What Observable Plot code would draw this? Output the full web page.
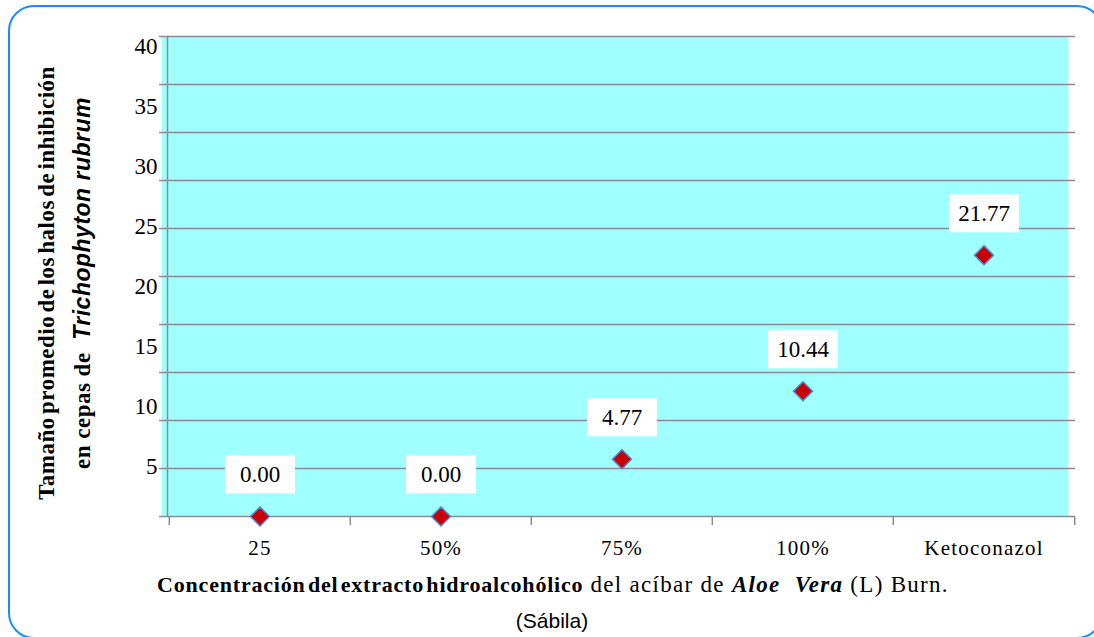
<!DOCTYPE html>
<html>
<head>
<meta charset="utf-8">
<script src="https://cdn.jsdelivr.net/npm/d3@7"></script>
<script src="https://cdn.jsdelivr.net/npm/@observablehq/plot@0.6"></script>
<style>
  body { margin: 0; background: #fff; overflow: hidden; }
  #wrap { position: relative; width: 1094px; height: 637px; overflow: hidden; background: #fff; }
  #chart { position: absolute; left: 0; top: 0; }
  #border { position: absolute; left: 7.75px; top: 4.75px; width: 1095.5px; height: 634.5px; box-sizing: border-box;
            border: 2.5px solid #1a8cff; border-radius: 26px; pointer-events: none; }
  .serif { font-family: "Liberation Serif", "Times New Roman", serif; }
  .sans { font-family: "Liberation Sans", Arial, sans-serif; }
  .ytitle { position: absolute; white-space: nowrap; transform: translate(-50%, -50%) rotate(-90deg); color: #000; }
  .xtitle { position: absolute; white-space: nowrap; transform: translate(-50%, -50%); color: #000; }
</style>
</head>
<body>
<div id="wrap">
  <div id="chart"></div>
  <div class="ytitle serif" style="left:47px; top:283px; font-size:23px; font-weight:bold; word-spacing:-3px; letter-spacing:0.5px;">Tamaño promedio de los halos de inhibición</div>
  <div class="ytitle" style="left:82px; top:283px; font-size:23px; font-weight:bold; letter-spacing:0.5px;"><span class="serif">en cepas de&nbsp; </span><span class="sans" style="font-style:italic;">Trichophyton rubrum</span></div>
  <div class="xtitle serif" style="left:553px; top:585px; font-size:22px;"><b style="word-spacing:-4px; letter-spacing:0.8px;">Concentración del extracto hidroalcohólico</b><span style="letter-spacing:1.3px; font-size:23px;"> del acíbar de <b><i>Aloe&nbsp; Vera</i></b> (L) Burn.</span></div>
  <div class="xtitle sans" style="left:552px; top:621px; font-size:21px;">(Sábila)</div>
  <div id="border"></div>
</div>
<script>
// Data
const categories = ["25", "50%", "75%", "100%", "Ketoconazol"];
const halos = [0.00, 0.00, 4.77, 10.44, 21.77];
const haloLabels = ["0.00", "0.00", "4.77", "10.44", "21.77"];
const yTickLabels = [5, 10, 15, 20, 25, 30, 35, 40];
const gridValues = [0, 4, 8, 12, 16, 20, 24, 28, 32, 36, 40];

const data = categories.map((c, i) => ({cat: c, v: halos[i], label: haloLabels[i]}));

const W = 1094, H = 637, mL = 168, mR = 19, mT = 36, mB = 121;
const bw = (W - mL - mR) / categories.length;
const boxSymbol = {draw(ctx) { ctx.rect(-35, -19, 70, 38); }};
const grid = "#8c8c8c";
const serif = "'Liberation Serif', 'Times New Roman', serif";

const chart = Plot.plot({
  width: W, height: H,
  marginLeft: mL, marginRight: mR, marginTop: mT, marginBottom: mB,
  style: {background: "transparent", fontFamily: serif, fontSize: "22px", color: "#000"},
  x: {domain: categories, type: "band", padding: 0, axis: null, label: null},
  y: {domain: [0, 40], axis: null, label: null},
  marks: [
    Plot.frame({fill: "#a0ffff", stroke: null, dx: -7}),
    Plot.ruleY(gridValues, {stroke: grid, strokeWidth: 1.5}),
    Plot.axisY({ticks: gridValues, tickSize: 9, tickFormat: () => "", label: null, stroke: grid, strokeWidth: 1.5}),
    Plot.axisY({ticks: yTickLabels, tickSize: 0, tickPadding: 11, dy: 10, label: null, fontSize: 23, fill: "#000"}),
    Plot.frame({anchor: "left", stroke: grid, strokeWidth: 1.5, dx: -1}),
    Plot.axisX({ticks: categories, tickSize: 9, tickFormat: () => "", label: null, dx: -bw / 2, stroke: grid, strokeWidth: 1.5}),
    Plot.axisX({ticks: [categories[categories.length - 1]], tickSize: 9, tickFormat: () => "", label: null, dx: bw / 2, stroke: grid, strokeWidth: 1.5}),
    Plot.axisX({tickSize: 0, tickPadding: 24, label: null, fontSize: 21, fill: "#000"}),
    Plot.dot(data, {x: "cat", y: "v", symbol: boxSymbol, r: 10, fill: "white", stroke: null, dy: -42}),
    Plot.text(data, {x: "cat", y: "v", text: "label", dy: -42, fontSize: 23, fill: "#000"}),
    Plot.dot(data, {x: "cat", y: "v", symbol: "diamond2", r: 8.5, fill: "#c80000", stroke: "#4f80d0", strokeWidth: 1.5})
  ]
});
chart.querySelectorAll("text").forEach(t => {
  t.setAttribute("font-family", "Liberation Serif");
  t.style.setProperty("font-family", "'Liberation Serif', 'Times New Roman', serif", "important");
});
chart.querySelectorAll("g[aria-label='x-axis tick label'] text").forEach(t => t.style.letterSpacing = "1.2px");
document.getElementById("chart").appendChild(chart);
</script>
</body>
</html>
